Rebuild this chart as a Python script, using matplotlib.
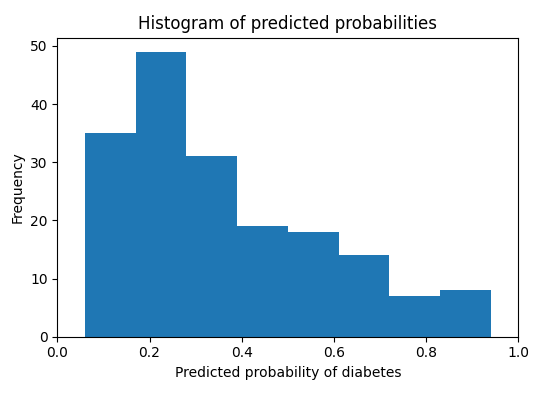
import matplotlib
matplotlib.use("Agg")
import matplotlib.pyplot as plt
import numpy as np

# histogram of predicted probabilities (8 bins)
bin_edges = [0.06, 0.17, 0.28, 0.39, 0.50, 0.61, 0.72, 0.83, 0.94]
counts = [35, 49, 31, 19, 18, 14, 7, 8]

edges = np.array(bin_edges)
centers = (edges[:-1] + edges[1:]) / 2

fig = plt.figure(figsize=(5.46, 3.99), dpi=100)
ax = fig.add_axes([0.105, 0.156, 0.8443, 0.750])
ax.hist(centers, bins=edges, weights=counts, color='#1f77b4')
ax.set_xlim(0, 1)
ax.set_title('Histogram of predicted probabilities')
ax.set_xlabel('Predicted probability of diabetes')
ax.set_ylabel('Frequency')

fig.savefig('out.png', dpi=100)
